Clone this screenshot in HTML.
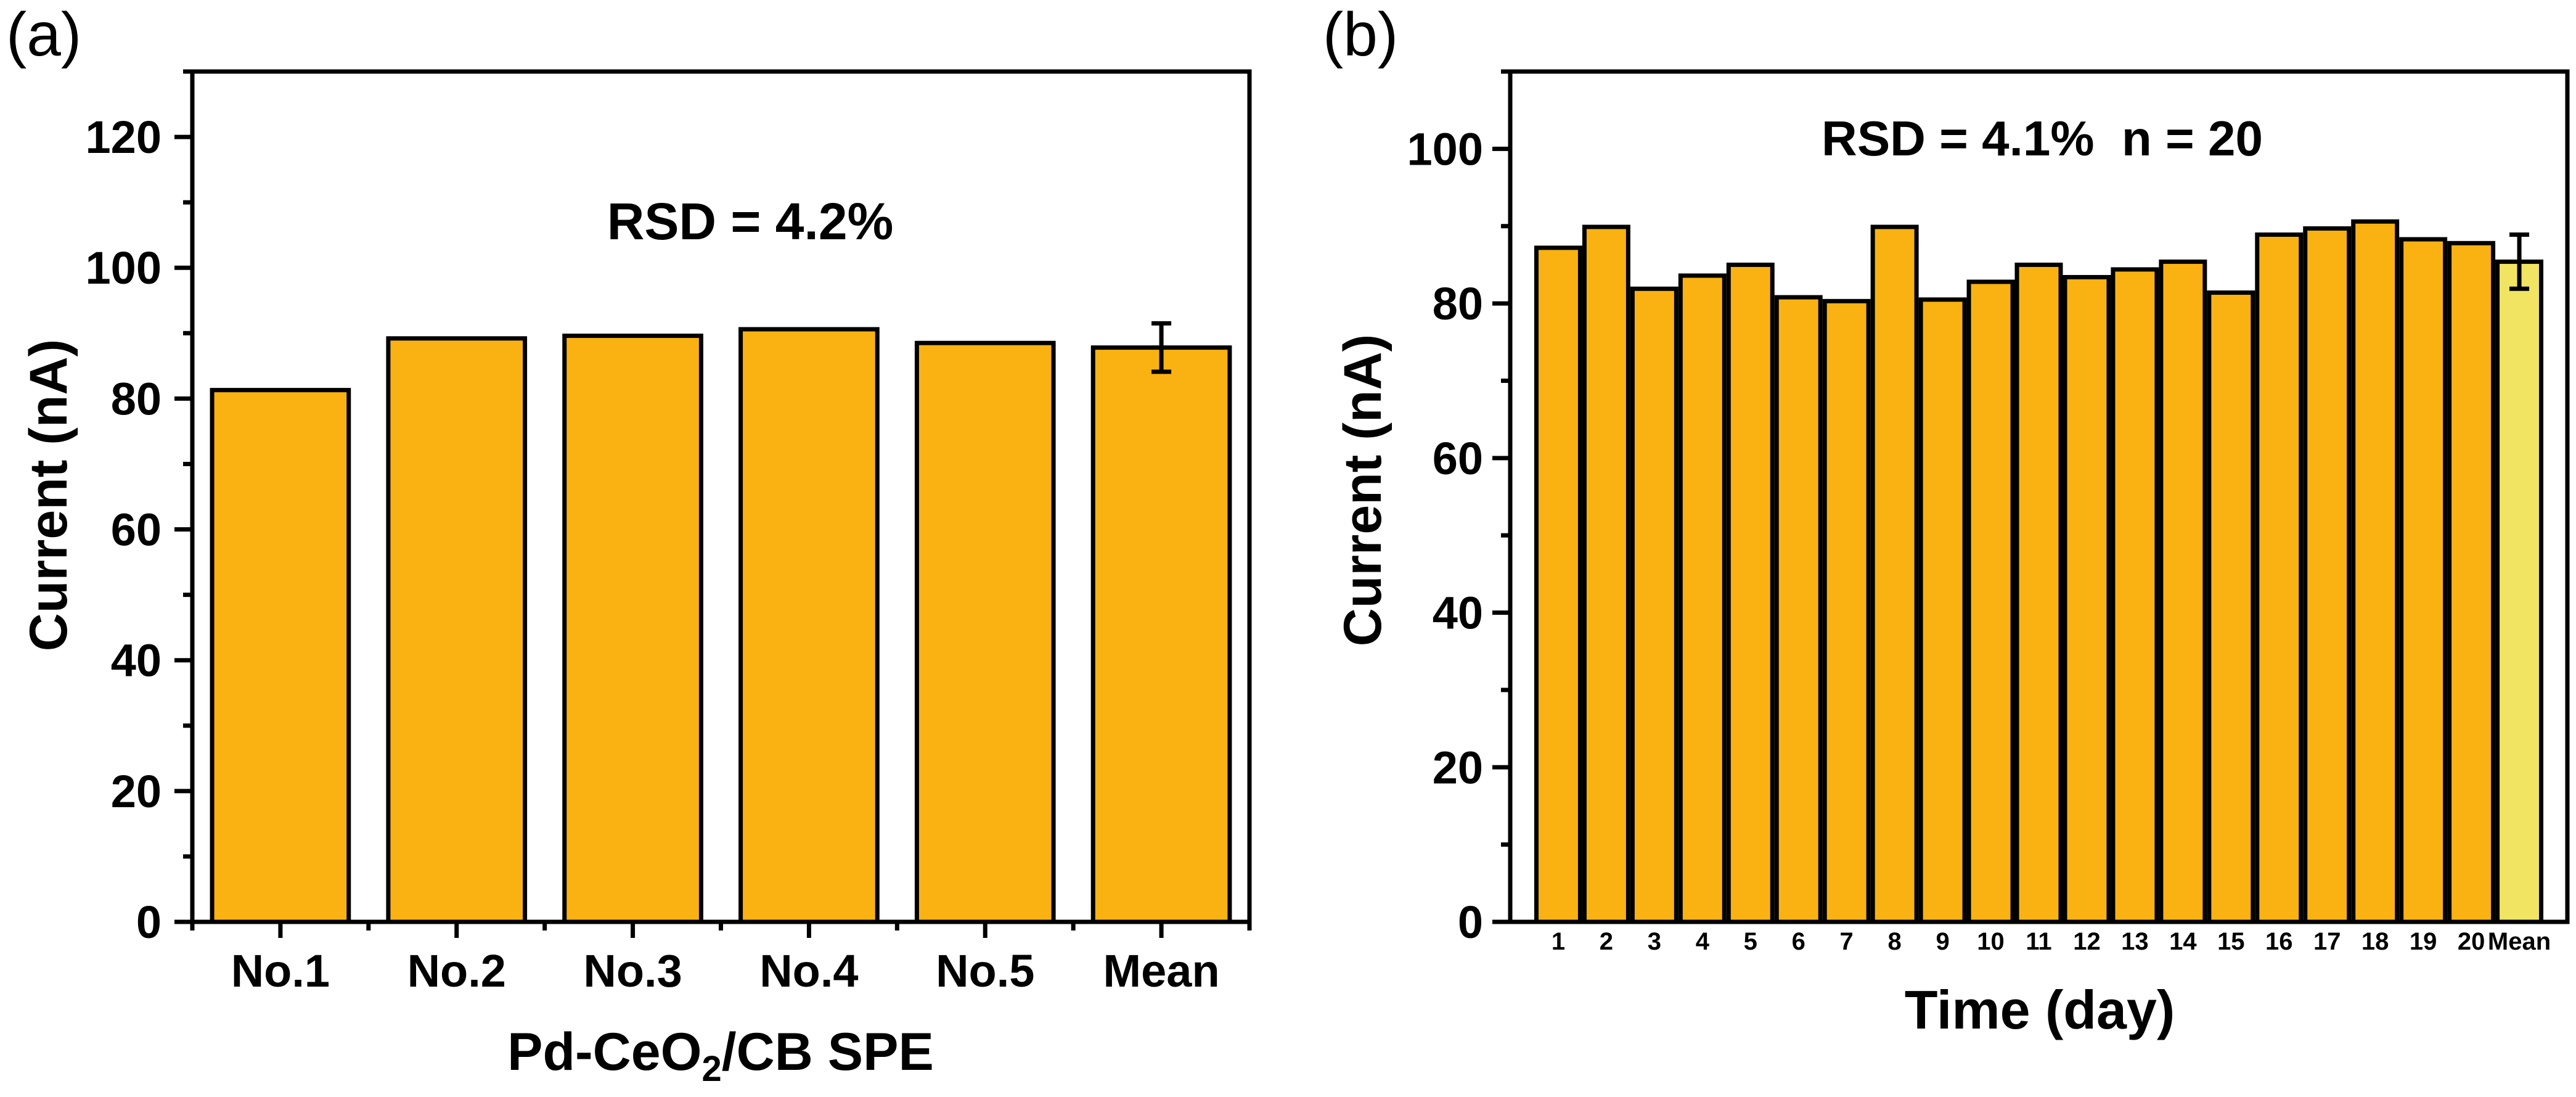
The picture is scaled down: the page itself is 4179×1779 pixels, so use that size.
<!DOCTYPE html>
<html><head><meta charset="utf-8"><style>
html,body{margin:0;padding:0;background:#fff;}
svg{display:block;font-family:"Liberation Sans",Arial,sans-serif;}
</style></head><body>
<svg id="fig" width="4179" height="1779" viewBox="0 0 4179 1779" xmlns="http://www.w3.org/2000/svg">
<g id="pa"></g>
<g id="pb"></g>
</svg>
<script>
// Panel (a) data
const catsA = ["No.1","No.2","No.3","No.4","No.5","Mean"];
const valsA = [81.3, 89.2, 89.6, 90.6, 88.5, 87.8];
const errA = [0, 0, 0, 0, 0, 3.7];
const yTicksA = [0, 20, 40, 60, 80, 100, 120];
// Panel (b) data
const catsB = ["1","2","3","4","5","6","7","8","9","10","11","12","13","14","15","16","17","18","19","20","Mean"];
const valsB = [87.2, 89.9, 81.9, 83.6, 85.0, 80.8, 80.3, 89.9, 80.5, 82.8, 85.0, 83.4, 84.4, 85.4, 81.4, 88.9, 89.7, 90.6, 88.3, 87.8, 85.4];
const errB = [0,0,0,0,0,0,0,0,0,0,0,0,0,0,0,0,0,0,0,0,3.5];
const yTicksB = [0, 20, 40, 60, 80, 100];

const NS = "http://www.w3.org/2000/svg";
function mk(parent, tag, attrs, text) {
  const e = document.createElementNS(NS, tag);
  for (const k in attrs) e.setAttribute(k, attrs[k]);
  if (text !== undefined) e.textContent = text;
  parent.appendChild(e);
  return e;
}
const ORANGE = "#F9B211", YEL = "#F0E462", LW = 7;

// ---------- Panel A ----------
(function(){
  const g = document.getElementById("pa");
  const L = 312, R = 2027, T = 116, B = 1495, ymax = 130;
  const n = catsA.length;
  const xs = i => L + (i + 0.5) * (R - L) / n;
  const ys = v => B - v * (B - T) / ymax;
  const bw = 0.8 * (R - L) / n;
  catsA.forEach((c, i) => {
    const b = mk(g, "rect", {x: xs(i) - bw/2 + LW/2, y: ys(valsA[i]), width: bw - LW, height: B - ys(valsA[i]), fill: ORANGE, stroke: "#000", "stroke-width": LW});
    
    
    if (errA[i] > 0) {
      const e = mk(g, "path", {d: `M${xs(i)},${ys(valsA[i]+errA[i])}V${ys(valsA[i]-errA[i])}M${xs(i)-16},${ys(valsA[i]+errA[i])}h32M${xs(i)-16},${ys(valsA[i]-errA[i])}h32`, stroke: "#000", "stroke-width": 7, fill: "none"});
      
      
    }
    const t = mk(g, "text", {x: xs(i), y: 1600, "text-anchor": "middle", "font-size": 74, "font-weight": "bold"}, c);
    
    
    mk(g, "line", {x1: xs(i), x2: xs(i), y1: B, y2: B + 26, stroke: "#000", "stroke-width": LW});
  });
  for (let k = 0; k <= n; k++) { const x = L + k * (R - L) / n; mk(g, "line", {x1: x, x2: x, y1: B, y2: B + 14, stroke: "#000", "stroke-width": LW}); }
  yTicksA.forEach(v => {
    mk(g, "line", {x1: L - 29, x2: L, y1: ys(v), y2: ys(v), stroke: "#000", "stroke-width": LW});
    const t = mk(g, "text", {x: 262, y: ys(v) + 26, "text-anchor": "end", "font-size": 74, "font-weight": "bold"}, String(v));
    
    
  });
  for (let v = 10; v < ymax; v += 20) mk(g, "line", {x1: L - 15, x2: L, y1: ys(v), y2: ys(v), stroke: "#000", "stroke-width": LW});
  const fr = mk(g, "path", {d: `M${L-29},${B}H${R}V${T}H${L-15}M${L},${T}V${B}`, stroke: "#000", "stroke-width": LW, fill: "none"});
  
  
  const yt = mk(g, "text", {x: 0, y: 0, transform: "translate(108,803) rotate(-90)", "text-anchor": "middle", "font-size": 86, "font-weight": "bold"}, "Current (nA)");
  
  
  const xt = mk(g, "text", {x: 1169, y: 1735, "text-anchor": "middle", "font-size": 86, "font-weight": "bold"});
  
  
  xt.innerHTML = 'Pd-CeO<tspan dy="18" font-size="58">2</tspan><tspan dy="-18">/CB SPE</tspan>';
  const an = mk(g, "text", {x: 1217, y: 388, "text-anchor": "middle", "font-size": 84, "font-weight": "bold"}, "RSD = 4.2%");
  
  
  const pl = mk(g, "text", {x: 10, y: 90, "font-size": 100}, "(a)");
  
  
})();

// ---------- Panel B ----------
(function(){
  const g = document.getElementById("pb");
  const L = 2450, R = 4165, T = 116, B = 1495, ymax = 110, xmax = 22;
  const xs = v => L + v * (R - L) / xmax;
  const ys = v => B - v * (B - T) / ymax;
  const bw = (R - L) / xmax;
  catsB.forEach((c, i) => {
    const cx = xs(i + 1);
    const b = mk(g, "rect", {x: cx - bw/2 + LW/2, y: ys(valsB[i]), width: bw - LW, height: B - ys(valsB[i]), fill: c === "Mean" ? YEL : ORANGE, stroke: "#000", "stroke-width": LW});
    
    
    if (errB[i] > 0) {
      const e = mk(g, "path", {d: `M${cx},${ys(valsB[i]+errB[i])}V${ys(valsB[i]-errB[i])}M${cx-16},${ys(valsB[i]+errB[i])}h32M${cx-16},${ys(valsB[i]-errB[i])}h32`, stroke: "#000", "stroke-width": 7, fill: "none"});
      
      
    }
    const t = mk(g, "text", {x: cx, y: 1540, "text-anchor": "middle", "font-size": 40, "font-weight": "bold"}, c);
    
    
  });
  yTicksB.forEach(v => {
    mk(g, "line", {x1: L - 29, x2: L, y1: ys(v), y2: ys(v), stroke: "#000", "stroke-width": LW});
    const t = mk(g, "text", {x: 2406, y: ys(v) + 26, "text-anchor": "end", "font-size": 74, "font-weight": "bold"}, String(v));
    
    
  });
  for (let v = 10; v < ymax; v += 20) mk(g, "line", {x1: L - 15, x2: L, y1: ys(v), y2: ys(v), stroke: "#000", "stroke-width": LW});
  const fr = mk(g, "path", {d: `M${L-29},${B}H${R}V${T}H${L-15}M${L},${T}V${B}`, stroke: "#000", "stroke-width": LW, fill: "none"});
  
  
  const yt = mk(g, "text", {x: 0, y: 0, transform: "translate(2240,795) rotate(-90)", "text-anchor": "middle", "font-size": 86, "font-weight": "bold"}, "Current (nA)");
  
  
  const xt = mk(g, "text", {x: 3309, y: 1668, "text-anchor": "middle", "font-size": 88, "font-weight": "bold"}, "Time (day)");
  
  
  const an = mk(g, "text", {x: 3313, y: 252, "text-anchor": "middle", "font-size": 80, "font-weight": "bold", style: "white-space:pre"}, "RSD = 4.1%  n = 20");
  
  
  const pl = mk(g, "text", {x: 2146, y: 90, "font-size": 100}, "(b)");
  
  
})();
</script>
</body></html>
